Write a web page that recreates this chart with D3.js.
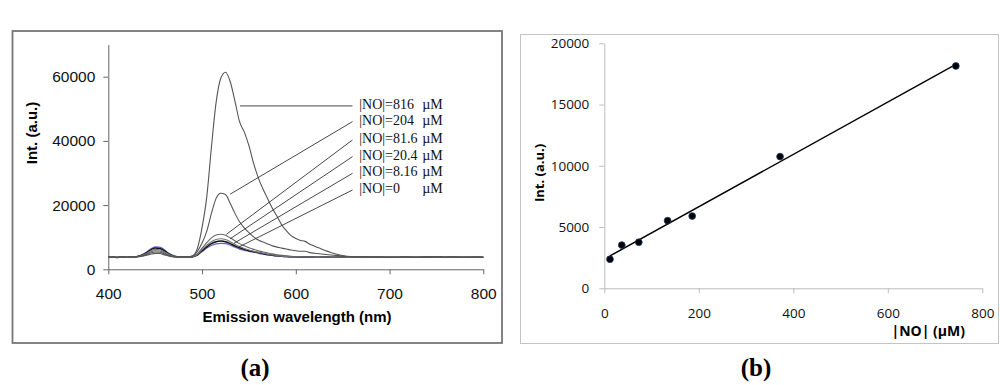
<!DOCTYPE html>
<html>
<head>
<meta charset="utf-8">
<script src="https://cdn.jsdelivr.net/npm/d3@7"></script>
<style>
  body { margin: 0; background: #fff; }
  svg { display: block; }
</style>
</head>
<body>
<div id="chart"></div>
<script>
// ---- data, panel (a): emission spectra ----
var wavelength = [400,405,410,415,420,425,430,435,440,445,450,455,460,465,470,475,480,485,490,495,
  500,505,510,515,520,525,530,535,540,545,550,555,560,565,570,575,580,585,590,595,
  600,605,610,615,620,625,630,635,640,645,650,655,660,670,680,690,700,710,720,730,
  740,750,760,770,780,790,800];

var spec816 = [3760,3810,3700,3870,3750,3840,3900,4000,4300,4700,4950,4900,4500,4100,3850,3770,3800,3850,4200,6500,
  13000,22500,38000,52000,59500,61400,58500,52500,46000,42800,38500,33000,28500,25000,22000,19000,16500,13800,12000,10500,
  9600,9000,8700,7800,7200,6600,6000,5500,5000,4600,4300,4050,3900,3850,3800,3790,3720,3760,3810,3710,
  3860,3900,3760,3810,3700,3790,3740];
var spec204 = [3770,3800,3720,3880,3760,3850,3910,4100,4500,5100,5400,5300,4800,4200,3900,3780,3820,3830,4100,5600,
  8200,11800,17400,22100,23700,23300,20600,17500,14800,12900,11400,10100,9100,8500,7900,7300,6900,6600,6300,6000,
  5800,5600,5600,5200,5000,4850,4700,4550,4400,4250,4100,3950,3900,3880,3790,3820,3730,3770,3800,3730,
  3860,3900,3770,3800,3730,3810,3760];
var spec81 = [3740,3810,3710,3890,3750,3860,3900,4150,4700,5400,5800,5700,5100,4400,3950,3800,3830,3820,4000,4800,
  6600,8300,9800,10700,10900,10600,9800,8900,8000,7300,6700,6200,5800,5400,5100,4800,4550,4350,4200,4080,
  4000,3950,3900,3880,3830,3800,3840,3820,3780,3810,3840,3880,3860,3900,3780,3800,3730,3750,3800,3720,
  3850,3880,3750,3800,3720,3800,3750];
var spec20 = [3760,3790,3730,3870,3770,3840,3920,4250,4900,5700,6200,6100,5400,4600,4050,3830,3840,3810,3950,4600,
  6100,7500,8600,9300,9500,9300,8600,7800,7100,6500,6000,5600,5300,5000,4700,4450,4250,4100,4000,3940,
  3900,3870,3830,3850,3800,3760,3820,3810,3770,3800,3820,3870,3860,3890,3760,3810,3710,3740,3790,3710,
  3840,3890,3740,3810,3710,3780,3740];
var spec8 = [3780,3820,3700,3900,3740,3870,3930,4300,5000,6000,6600,6500,5700,4700,4100,3850,3820,3790,3920,4500,
  5800,7000,8000,8600,8800,8600,8000,7300,6700,6200,5800,5500,5200,4900,4600,4400,4200,4050,3950,3920,
  3880,3860,3820,3860,3780,3770,3830,3820,3760,3790,3830,3880,3870,3880,3770,3790,3720,3760,3780,3720,
  3830,3880,3760,3790,3720,3790,3760];
var spec0 = [3750,3800,3720,3880,3760,3850,3950,4350,5200,6300,7000,6900,6000,4900,4200,3900,3850,3800,3900,4400,
  5500,6600,7400,7900,8100,8000,7500,6900,6300,5900,5600,5300,5000,4700,4500,4300,4150,4000,3950,3900,
  3850,3900,3800,3850,3800,3750,3850,3800,3750,3800,3850,3900,3850,3900,3750,3800,3700,3750,3800,3700,
  3850,3900,3750,3800,3700,3800,3750];

var concLabels = ["816", "204", "81.6", "20.4", "8.16", "0"];
// leader line start on each curve [nm, intensity] and label rows (intensity)
var leaderFrom = [[540.5, 50900], [530, 23400], [526, 10900], [530, 9500], [534, 8100], [539, 6900]];
var labelRows = [50900, 46000, 40300, 35100, 29900, 24700];

var specTicksX = [400, 500, 600, 700, 800];
var specTicksY = [0, 20000, 40000, 60000];

// ---- data, panel (b): calibration ----
var noConc = [12, 37, 73, 134, 186, 372, 744];
var intensity = [2370, 3530, 3760, 5520, 5900, 10750, 18150];
var calTicksX = [0, 200, 400, 600, 800];
var calTicksY = [0, 5000, 10000, 15000, 20000];

var svg = d3.select("#chart").append("svg")
  .attr("width", 1000)
  .attr("height", 385);

// ================= panel (a) =================
svg.append("rect")
  .attr("x", 12.5).attr("y", 31).attr("width", 489.5).attr("height", 312)
  .attr("fill", "none").attr("stroke", "#777").attr("stroke-width", 1.8);

var xA = d3.scaleLinear().domain([400, 800]).range([108.3, 483.3]);
var yA = d3.scaleLinear().domain([0, 70000]).range([269.3, 44.6]);

var gA = svg.append("g");

var xAxisA = gA.append("g")
  .attr("transform", "translate(0," + yA(0) + ")")
  .call(d3.axisBottom(xA).tickValues(specTicksX).tickSize(5).tickPadding(14).tickSizeOuter(0).tickFormat(d3.format("d")));
var yAxisA = gA.append("g")
  .attr("transform", "translate(" + xA(400) + ",0)")
  .call(d3.axisLeft(yA).tickValues(specTicksY).tickSize(5).tickPadding(8).tickSizeOuter(0).tickFormat(d3.format("d")));

[xAxisA, yAxisA].forEach(function (ax) {
  ax.select(".domain").attr("stroke", "#666");
  ax.selectAll(".tick line").attr("stroke", "#666");
  ax.selectAll("text")
    .attr("font-family", "Liberation Sans, Arial, sans-serif")
    .attr("font-size", "15.5px")
    .attr("fill", "#111");
});

gA.append("text")
  .attr("x", 297).attr("y", 322)
  .attr("text-anchor", "middle")
  .attr("font-family", "Liberation Sans, Arial, sans-serif")
  .attr("font-size", "15px").attr("font-weight", "bold")
  .text("Emission wavelength (nm)");

gA.append("text")
  .attr("transform", "translate(37,133) rotate(-90)")
  .attr("text-anchor", "middle")
  .attr("font-family", "Liberation Sans, Arial, sans-serif")
  .attr("font-size", "15px").attr("font-weight", "bold")
  .text("Int. (a.u.)");

var spectra = [
  { values: spec816, color: "#555", w: 1.1 },
  { values: spec204, color: "#555", w: 1.1 },
  { values: spec81, color: "#666", w: 1.1 },
  { values: spec20, color: "#777", w: 1.1 },
  { values: spec8, color: "#111", w: 1.5 },
  { values: spec0, color: "#6464d2", w: 1.2 }
];

var lineA = d3.line()
  .x(function (d, i) { return xA(wavelength[i]); })
  .y(function (d) { return yA(d); })
  .curve(d3.curveMonotoneX);

gA.selectAll("path.spec")
  .data(spectra.slice().reverse())
  .enter()
  .append("path")
  .attr("class", "spec")
  .attr("d", function (d) { return lineA(d.values); })
  .attr("fill", "none")
  .attr("stroke", function (d) { return d.color; })
  .attr("stroke-width", function (d) { return d.w; });

// leader lines + labels
var labelX = 667.7, unitX = 734.9, leaderEndX = 660.5;

gA.selectAll("line.leader")
  .data(leaderFrom)
  .enter()
  .append("line")
  .attr("class", "leader")
  .attr("x1", function (d) { return xA(d[0]); })
  .attr("y1", function (d) { return yA(d[1]); })
  .attr("x2", xA(leaderEndX))
  .attr("y2", function (d, i) { return yA(labelRows[i]); })
  .attr("stroke", "#333")
  .attr("stroke-width", 0.9);

var lab = gA.selectAll("text.conc")
  .data(concLabels)
  .enter()
  .append("text")
  .attr("class", "conc")
  .attr("y", function (d, i) { return yA(labelRows[i]) + 3; })
  .attr("font-family", "Liberation Serif, Times New Roman, serif")
  .attr("font-size", "14px")
  .attr("fill", "#111");
lab.append("tspan").attr("x", xA(labelX)).text(function (d) { return "|NO|=" + d; });
lab.append("tspan").attr("x", xA(unitX)).text("µM");

// ================= panel (b) =================
svg.append("rect")
  .attr("x", 520.5).attr("y", 34.5).attr("width", 478).attr("height", 309)
  .attr("fill", "none").attr("stroke", "#c4c4c4").attr("stroke-width", 1);

var xB = d3.scaleLinear().domain([0, 800]).range([604.3, 982.3]);
var yB = d3.scaleLinear().domain([0, 20000]).range([288.3, 43.3]);

var gB = svg.append("g");

var xAxisB = gB.append("g")
  .attr("transform", "translate(0," + yB(0) + ")")
  .call(d3.axisBottom(xB).tickValues(calTicksX).tickSize(5).tickPadding(15).tickSizeOuter(0).tickFormat(d3.format("d")));
var yAxisB = gB.append("g")
  .attr("transform", "translate(" + xB(0) + ",0)")
  .call(d3.axisLeft(yB).tickValues(calTicksY).tickSize(5).tickPadding(10).tickSizeOuter(0).tickFormat(d3.format("d")));

[xAxisB, yAxisB].forEach(function (ax) {
  ax.select(".domain").attr("stroke", "#bdbdbd");
  ax.selectAll(".tick line").attr("stroke", "#bdbdbd");
  ax.selectAll("text")
    .attr("font-family", "Open Sans, sans-serif")
    .attr("font-size", "13.5px")
    .attr("fill", "#111");
});

gB.append("text")
  .attr("transform", "translate(544,173) rotate(-90)")
  .attr("text-anchor", "middle")
  .attr("font-family", "Open Sans, sans-serif")
  .attr("font-size", "13px").attr("font-weight", "bold")
  .text("Int. (a.u.)");

gB.append("text")
  .attr("x", 965).attr("y", 336)
  .attr("text-anchor", "end")
  .attr("font-family", "Open Sans, sans-serif")
  .attr("font-size", "14px").attr("font-weight", "bold")
  .text("|NO| (µM)");

// linear fit of the calibration points
var mx = d3.mean(noConc), my = d3.mean(intensity);
var sxy = d3.sum(noConc, function (x, i) { return (x - mx) * (intensity[i] - my); });
var sxx = d3.sum(noConc, function (x) { return (x - mx) * (x - mx); });
var slope = sxy / sxx, icpt = my - slope * mx;
var xExt = d3.extent(noConc);

gB.append("line")
  .attr("x1", xB(xExt[0])).attr("y1", yB(icpt + slope * xExt[0]))
  .attr("x2", xB(xExt[1])).attr("y2", yB(icpt + slope * xExt[1]))
  .attr("stroke", "#000").attr("stroke-width", 1.4);

gB.selectAll("circle")
  .data(noConc)
  .enter()
  .append("circle")
  .attr("cx", function (d) { return xB(d); })
  .attr("cy", function (d, i) { return yB(intensity[i]); })
  .attr("r", 3.4)
  .attr("fill", "#000")
  .attr("stroke", "#1f3a6e")
  .attr("stroke-width", 0.8);

// ================= captions =================
svg.append("text")
  .attr("x", 255).attr("y", 376)
  .attr("text-anchor", "middle")
  .attr("font-family", "Liberation Serif, Times New Roman, serif")
  .attr("font-size", "25px").attr("font-weight", "bold")
  .text("(a)");
svg.append("text")
  .attr("x", 756).attr("y", 376)
  .attr("text-anchor", "middle")
  .attr("font-family", "Liberation Serif, Times New Roman, serif")
  .attr("font-size", "25px").attr("font-weight", "bold")
  .text("(b)");
</script>
</body>
</html>
